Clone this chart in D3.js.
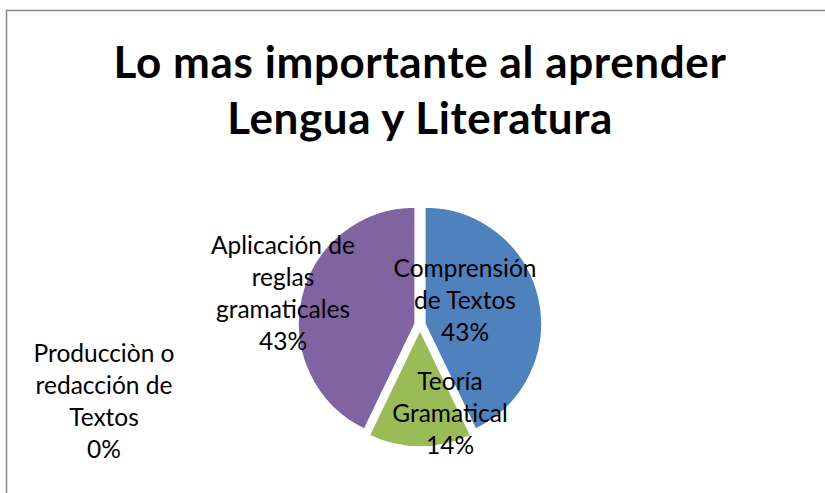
<!DOCTYPE html>
<html>
<head>
<meta charset="utf-8">
<script src="https://cdn.jsdelivr.net/npm/d3@7"></script>
<style>
  html, body { margin: 0; padding: 0; background: #fff; }
  svg { display: block; }
</style>
</head>
<body>
<svg id="chart" width="825" height="493"></svg>
<script>
// ---- data ----
const titleLines = ["Lo mas importante al aprender", "Lengua y Literatura"];
const categories = [
  "Comprensión de Textos",
  "Teoría Gramatical",
  "Producciòn o redacción de Textos",
  "Aplicación de reglas gramaticales"
];
const values = [3, 1, 0, 3];
// label text broken into lines as in the reference
const labelLines = [
  ["Comprensión", "de Textos"],
  ["Teoría", "Gramatical"],
  ["Producciòn o", "redacción de", "Textos"],
  ["Aplicación de", "reglas", "gramaticales"]
];
const colors = ["#4F81BD", "#9BBB59", "#C0504D", "#8064A2"];

// ---- layout ----
const W = 825, H = 493;
const cx = 420, cy = 325, R = 117, explode = 5;
// label block anchor (x centre, baseline of first line) relative to pie centre
const labelAnchor = [
  [45, -48],
  [30, 65],
  [-316, 37],
  [-137, -71]
];
const lineH = 32;

const svg = d3.select("#chart");

// outer chart border (extends past the window on right/bottom)
svg.append("rect")
  .attr("x", 6.5).attr("y", 10.5)
  .attr("width", 840).attr("height", 520)
  .attr("fill", "#fff")
  .attr("stroke", "#868686").attr("stroke-width", 1.5);

// title
svg.append("text")
  .attr("text-anchor", "middle")
  .attr("font-family", "Lato, 'Open Sans', sans-serif")
  .attr("font-weight", "bold")
  .attr("font-size", 44)
  .attr("letter-spacing", 0.6)
  .attr("fill", "#000")
  .selectAll("tspan").data(titleLines).join("tspan")
  .attr("x", cx)
  .attr("y", (d, i) => 78 + i * 56)
  .text(d => d);

const total = d3.sum(values);
const pct = d3.format(".0%");

const pie = d3.pie().sort(null).value(d => d.v).startAngle(0).endAngle(2 * Math.PI);
const arcs = pie(values.map((v, i) => ({ v, i })));
const arc = d3.arc().innerRadius(0).outerRadius(R);

const g = svg.append("g").attr("transform", `translate(${cx},${cy})`);

g.selectAll("path.slice").data(arcs.filter(a => a.data.v > 0)).join("path")
  .attr("class", "slice")
  .attr("transform", a => {
    const m = (a.startAngle + a.endAngle) / 2;
    return `translate(${explode * Math.sin(m)},${-explode * Math.cos(m)})`;
  })
  .attr("d", arc)
  .attr("fill", a => colors[a.data.i])
  .attr("stroke", "#fff")
  .attr("stroke-width", 1.5);

// data labels
const lbl = g.selectAll("text.lbl").data(arcs).join("text")
  .attr("class", "lbl")
  .attr("text-anchor", "middle")
  .attr("font-family", "Lato, 'Open Sans', sans-serif")
  .attr("font-size", 24.5)
  .attr("fill", "#000");

lbl.each(function(a) {
  const i = a.data.i;
  const lines = labelLines[i].concat([pct(a.data.v / total)]);
  d3.select(this).selectAll("tspan").data(lines).join("tspan")
    .attr("x", labelAnchor[i][0])
    .attr("y", (d, k) => labelAnchor[i][1] + k * lineH)
    .text(d => d);
});
</script>
</body>
</html>
